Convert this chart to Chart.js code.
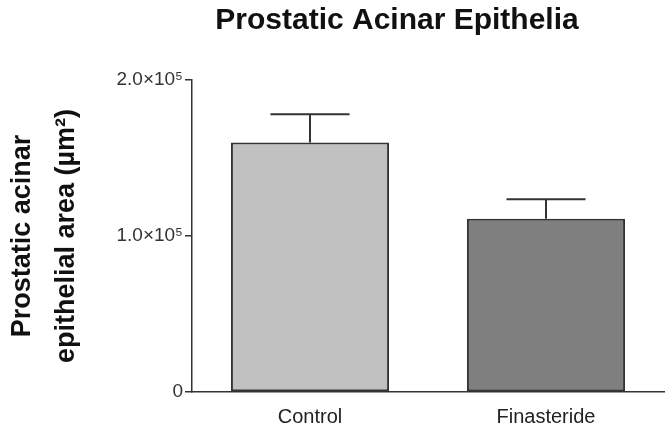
<!DOCTYPE html>
<html>
<head>
<meta charset="utf-8">
<script src="https://cdn.jsdelivr.net/npm/chart.js@4"></script>
<style>
  html, body { margin: 0; padding: 0; background: #fff; }
  #wrap { width: 672px; height: 429px; }
</style>
</head>
<body>
<div id="wrap"><canvas id="acinar_chart"></canvas></div>
<script>
const chartTitle = 'Prostatic Acinar Epithelia';
const categories = ['Control', 'Finasteride'];
const meanArea = [160000, 111000];
const semArea = [18000, 12500];
const barColors = ['#c0c0c0', '#7f7f7f'];
const yTickValues = [0, 100000, 200000];
const yTickLabels = ['0', '1.0×10⁵', '2.0×10⁵'];

// draws the upper half of the SEM whiskers like Prism does
const errorBars = {
    id: 'errorBars',
    afterDatasetsDraw(chart) {
        const ctx = chart.ctx;
        const yScale = chart.scales.y;
        const meta = chart.getDatasetMeta(0);
        ctx.save();
        ctx.strokeStyle = '#333';
        ctx.lineWidth = 2;
        meta.data.forEach(function (bar, i) {
            const top = yScale.getPixelForValue(meanArea[i] + semArea[i]);
            const half = bar.width / 4;
            ctx.beginPath();
            ctx.moveTo(bar.x, bar.y);
            ctx.lineTo(bar.x, top);
            ctx.moveTo(bar.x - half, top);
            ctx.lineTo(bar.x + half, top);
            ctx.stroke();
        });
        ctx.restore();
    }
};

// title sits a bit left of the plot centre in the original, so draw it by hand
const plotTitle = {
    id: 'plotTitle',
    afterDraw(chart) {
        const ctx = chart.ctx;
        ctx.save();
        ctx.fillStyle = '#111';
        ctx.font = 'bold 30px "Liberation Sans"';
        ctx.textAlign = 'center';
        ctx.textBaseline = 'middle';
        ctx.fillText(chartTitle, 397, 21);
        ctx.restore();
    }
};

document.addEventListener('DOMContentLoaded', function () {
    const ctx = document.getElementById('acinar_chart').getContext('2d');

    new Chart(ctx, {
        type: 'bar',
        data: {
            labels: categories,
            datasets: [{
                data: meanArea,
                backgroundColor: barColors,
                borderColor: '#333',
                borderWidth: 2,
                borderSkipped: false,
                categoryPercentage: 1,
                barPercentage: 0.67
            }]
        },
        plugins: [errorBars, plotTitle],
        options: {
            responsive: true,
            maintainAspectRatio: false,
            animation: false,
            layout: { padding: { left: 0, right: 8, top: 80, bottom: 0 } },
            plugins: {
                legend: { display: false },
                tooltip: { enabled: false },
                title: { display: false }
            },
            scales: {
                x: {
                    afterFit: function (scale) {
                        scale.height = 37;
                    },
                    grid: { display: false, drawTicks: false },
                    border: { display: true, color: '#333', width: 1.5 },
                    ticks: {
                        color: '#222',
                        padding: 13,
                        font: { family: 'Liberation Sans', size: 20 }
                    }
                },
                y: {
                    min: 0,
                    max: 200000,
                    afterBuildTicks: function (scale) {
                        scale.ticks = yTickValues.map(v => ({ value: v }));
                    },
                    afterFit: function (scale) {
                        scale.width = 192;
                    },
                    grid: {
                        drawOnChartArea: false,
                        drawTicks: true,
                        tickLength: 7,
                        color: '#333',
                        lineWidth: 1.5
                    },
                    border: { display: true, color: '#333', width: 1.5 },
                    ticks: {
                        color: '#333',
                        padding: 2,
                        font: { family: 'Liberation Sans', size: 19 },
                        callback: function (value, index) {
                            return yTickLabels[index];
                        }
                    },
                    title: {
                        display: true,
                        text: ['Prostatic acinar', 'epithelial area (µm²)'],
                        color: '#111',
                        padding: { top: 1, bottom: 0 },
                        font: { family: 'Liberation Sans', size: 27, weight: 'bold', lineHeight: 1.63 }
                    }
                }
            }
        }
    });
});
</script>
</body>
</html>
